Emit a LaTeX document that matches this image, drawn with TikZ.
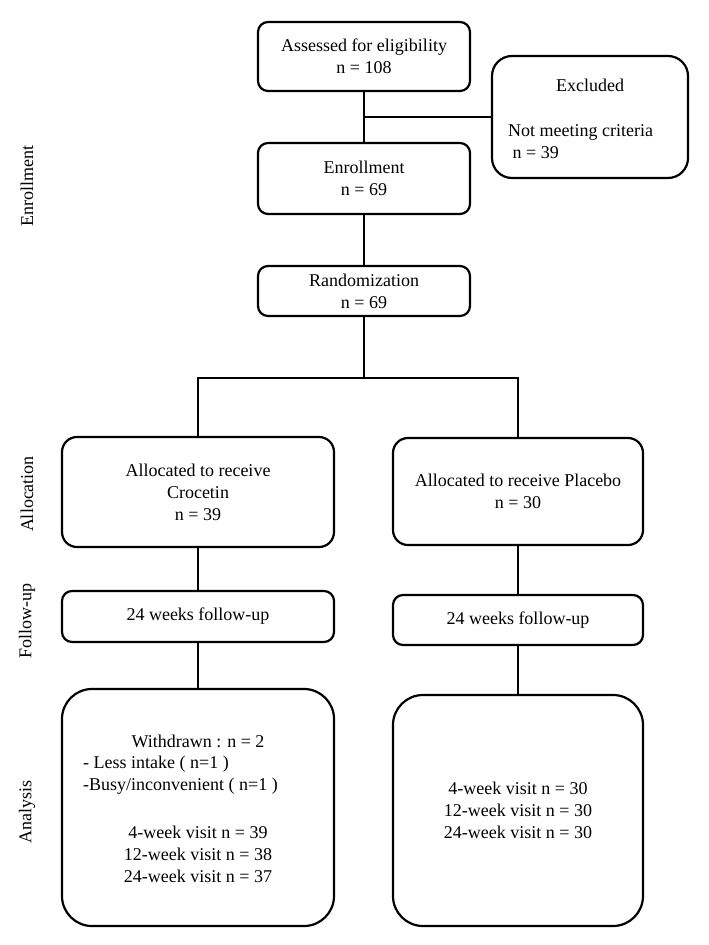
\documentclass[tikz,border=0pt]{standalone}
\usepackage{fontspec}
\setmainfont{Liberation Serif}
\usetikzlibrary{positioning, calc}

\tikzset{
  box/.style={draw, line width=2.2pt, rounded corners=10pt, inner sep=0pt, align=center},
  link/.style={line width=1.9pt},
  phase/.style={rotate=90}
}

\begin{document}
\begin{tikzpicture}[x=1pt, y=-1pt, font=\fontsize{18}{22}\selectfont]
        \useasboundingbox (0,0) rectangle (709,945);

        % Phase labels
        \node[phase] (lenr) at (27,186) {Enrollment};
        \node[phase] (lalc) at (27,494) {Allocation};
        \node[phase] (lfup) at (27,621) {Follow-up};
        \node[phase] (lanl) at (27,812) {Analysis};

        % Enrollment
        \node[box, minimum width=212, minimum height=69] (assess) at (364,56.5) {Assessed for eligibility\\n = 108};
        \node[box, rounded corners=20pt, minimum width=196, minimum height=122] (excl) at (590,117) {};
        \node (exclt) at (590,85) {Excluded};
        \node[align=left, anchor=west, inner sep=0pt] (exclr) at (508,141.5) {Not meeting criteria\\\ n = 39};
        \node[box, minimum width=212, minimum height=71] (enrol) at (364,178.5) {Enrollment\\n = 69};
        \node[box, minimum width=212, minimum height=50] (rand) at (364,291) {Randomization\\n = 69};

        % Allocation
        \node[box, rounded corners=15pt, minimum width=272, minimum height=110] (alcc) at (198,492) {Allocated to receive\\Crocetin\\n = 39};
        \node[box, rounded corners=15pt, minimum width=250, minimum height=107] (alcp) at (518,491.5) {Allocated to receive Placebo\\n = 30};

        % Follow-up
        \node[box, minimum width=272, minimum height=51] (fupc) at (198,616.5) {24 weeks follow-up};
        \node[box, minimum width=250, minimum height=50] (fupp) at (518,620) {24 weeks follow-up};

        % Analysis
        \node[box, rounded corners=30pt, minimum width=272, minimum height=237] (anlc) at (198,807.5) {};
        \node (wdr) at (198,741) {Withdrawn : n = 2};
        \node[align=left, anchor=west, inner sep=0pt] (why) at (83,775.5) {- Less intake ( n=1 )\\-Busy/inconvenient ( n=1 )};
        \node[align=center] (visc) at (198,854) {4-week visit n = 39\\12-week visit n = 38\\24-week visit n = 37};
        \node[box, rounded corners=30pt, minimum width=250, minimum height=231] (anlp) at (518,810.5) {4-week visit n = 30\\12-week visit n = 30\\24-week visit n = 30};

        % Connectors
        \draw[link] (assess.south) -- (enrol.north);
        \draw[link] (excl.west) -- (excl.west -| assess.south);
        \draw[link] (enrol.south) -- (rand.north);
        \coordinate (split) at (364,378);
        \draw[link] (rand.south) -- (split);
        \draw[link] (alcc.north) |- (split) -| (alcp.north);
        \draw[link] (alcc.south) -- (fupc.north);
        \draw[link] (alcp.south) -- (fupp.north);
        \draw[link] (fupc.south) -- (anlc.north);
        \draw[link] (fupp.south) -- (anlp.north);
    \end{tikzpicture}
\end{document}
